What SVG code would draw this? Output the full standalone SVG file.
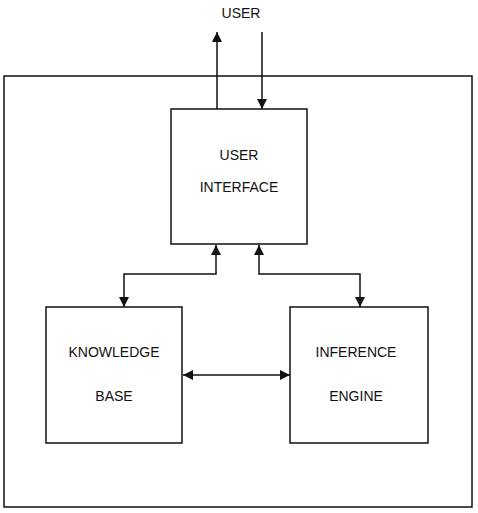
<svg xmlns="http://www.w3.org/2000/svg" width="478" height="513" viewBox="0 0 478 513">
<style>
.box{fill:none;stroke:#111;stroke-width:1.5}
.ln{fill:none;stroke:#111;stroke-width:1.5}
.t{font-family:"Liberation Sans",Arial,sans-serif;font-size:14px;fill:#111;text-anchor:middle}
</style>
<defs>
<marker id="ah" viewBox="0 0 10 10" refX="10" refY="5" markerWidth="11" markerHeight="10" markerUnits="userSpaceOnUse" orient="auto-start-reverse">
<path d="M0,0 L10,5 L0,10 z" fill="#111"/>
</marker>
</defs>
<rect id="frame" class="box" x="4" y="76" width="468" height="431"/>
<text class="t" x="241" y="18">USER</text>
<g id="user-interface">
<rect class="box" x="171" y="109" width="136" height="135"/>
<text class="t" x="239" y="160">USER</text>
<text class="t" x="239" y="192">INTERFACE</text>
</g>
<g id="knowledge-base">
<rect class="box" x="46" y="307" width="136" height="136"/>
<text class="t" x="114" y="357">KNOWLEDGE</text>
<text class="t" x="114" y="401">BASE</text>
</g>
<g id="inference-engine">
<rect class="box" x="290" y="307" width="138" height="136"/>
<text class="t" x="356" y="357">INFERENCE</text>
<text class="t" x="356" y="401">ENGINE</text>
</g>
<g id="connectors">
<path class="ln" d="M217,109 L217,32" marker-end="url(#ah)"/>
<path class="ln" d="M262,32 L262,109" marker-end="url(#ah)"/>
<path class="ln" d="M216,245 L216,274 L124,274 L124,307" marker-start="url(#ah)" marker-end="url(#ah)"/>
<path class="ln" d="M259,245 L259,274 L360,274 L360,307" marker-start="url(#ah)" marker-end="url(#ah)"/>
<path class="ln" d="M183,375 L290,375" marker-start="url(#ah)" marker-end="url(#ah)"/>
</g>
</svg>
